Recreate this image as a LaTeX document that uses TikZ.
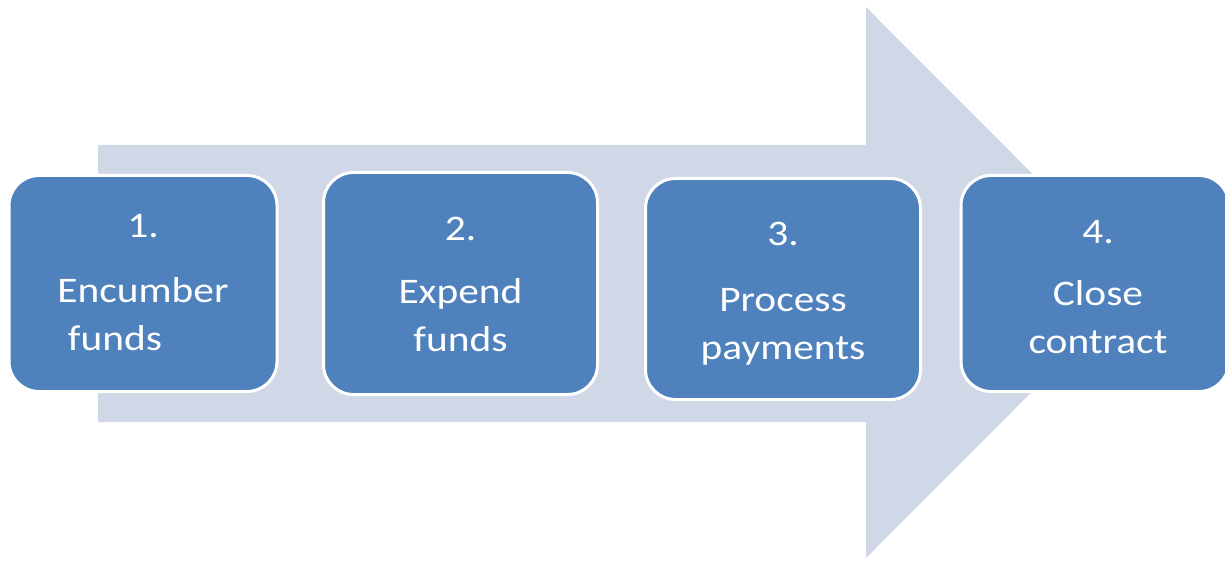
\documentclass[tikz,border=0pt]{standalone}
\usepackage{fontspec}
\newfontfamily\stepfont[FakeStretch=1.15]{Carlito}
\usetikzlibrary{calc,positioning}

\definecolor{stepblue}{HTML}{4F81BD}
\definecolor{arrowgray}{HTML}{D0D8E8}

\tikzset{
    stepbox/.style={rectangle, rounded corners=30pt, fill=stepblue, draw=white,
        line width=3pt, inner sep=0pt},
    steptext/.style={text=white, align=center, inner sep=0pt, anchor=base,
        font=\stepfont\fontsize{36}{48}\selectfont}
}

\begin{document}
\begin{tikzpicture}[x=1pt, y=1pt]
    \useasboundingbox (0,0) rectangle (1225,560);

    % big arrow behind the steps
    \fill[arrowgray] (98,415) -- (866,415) -- (866,553) -- (1141,277.5)
        -- (866,2) -- (866,138) -- (98,138) -- cycle;

    \node[stepbox, minimum width=268pt, minimum height=216pt] (enc) at (143,276.5) {};
    \node[stepbox, minimum width=274pt, minimum height=222pt] (exp) at (460.5,276.5) {};
    \node[stepbox, minimum width=275pt, minimum height=221pt] (proc) at (783,271) {};
    \node[stepbox, minimum width=268pt, minimum height=216pt] (close) at (1095,276.5) {};

    % base of a multi-line node sits on its last line
    \node[steptext] (enctext) at ([yshift=42.5pt]enc.south)
        {1.\\[17pt]Encumber\\funds\rule{56pt}{0pt}};
    \node[steptext] (exptext) at ([yshift=44.5pt]exp.south)
        {2.\\[15pt]Expend\\funds};
    \node[steptext] (proctext) at ([yshift=41.5pt]proc.south)
        {3.\\[18pt]Process\\payments};
    \node[steptext] (closetext) at ([xshift=3pt,yshift=39.5pt]close.south)
        {4.\\[14pt]Close\\contract};
\end{tikzpicture}
\end{document}
